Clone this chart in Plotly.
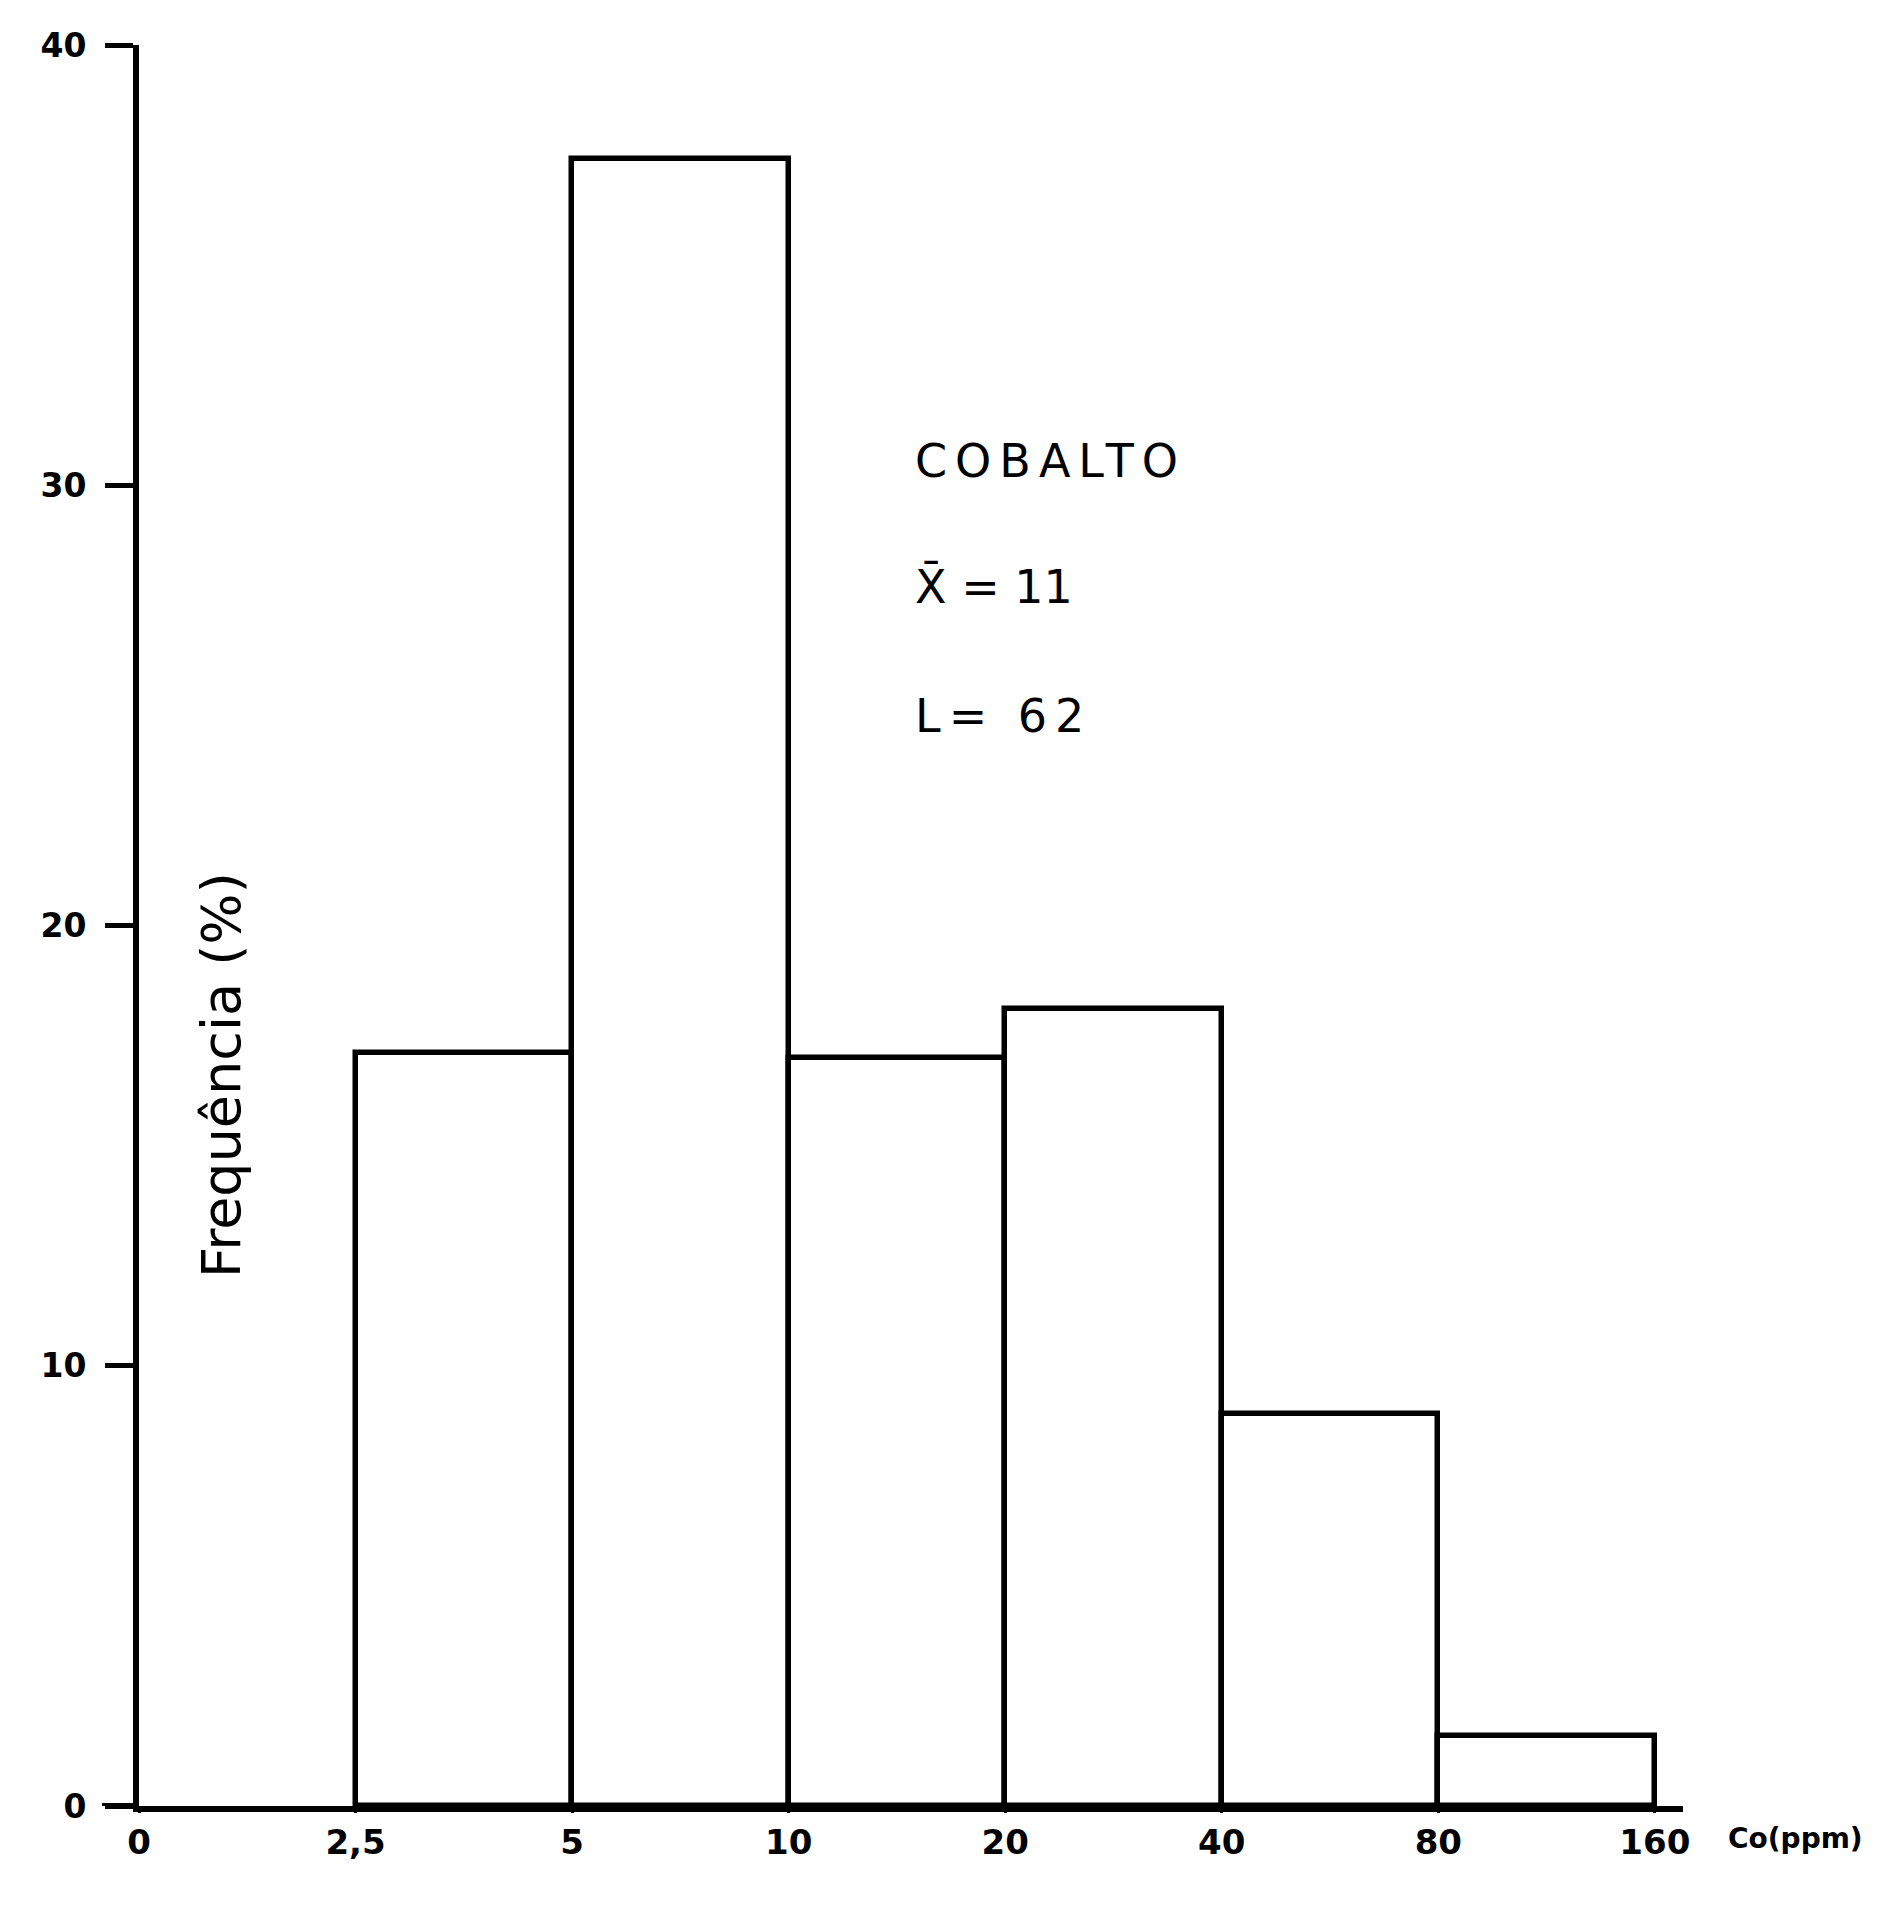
import plotly.graph_objects as go

# Bin edges (Co, ppm) shown as equal-width classes on the x axis
edge_labels = ["0", "2,5", "5", "10", "20", "40", "80", "160"]
# Frequency (%) for classes 2,5-5, 5-10, 10-20, 20-40, 40-80, 80-160
class_start_index = [1, 2, 3, 4, 5, 6]
frequency = [17.1, 37.4, 17.0, 18.1, 8.9, 1.6]
y_ticks = [0, 10, 20, 30, 40]

title_lines = ["COBALTO", "X\u0304 = 11", "L= 62"]
title_spacing = [8, 0, 8]
y_title = "Frequência (%)"
x_unit = "Co(ppm)"

W, H = 1881, 1927
ML, MR, MT, MB = 139, 198, 45, 121
FONT = "DejaVu Sans"

fig = go.Figure()
fig.add_trace(go.Bar(
    x=[i + 0.5 for i in class_start_index],
    y=frequency,
    width=1.0,
    marker=dict(color="white", line=dict(color="black", width=5.5)),
    showlegend=False,
    hoverinfo="skip",
))

plot_w = W - ML - MR
plot_h = H - MT - MB
x_max = 7.13

fig.update_layout(
    width=W, height=H,
    margin=dict(l=ML, r=MR, t=MT, b=MB),
    paper_bgcolor="white", plot_bgcolor="white",
    font=dict(family=FONT, color="black", size=30),
    bargap=0,
    xaxis=dict(
        range=[0, x_max],
        tickmode="array",
        tickvals=list(range(len(edge_labels))),
        ticktext=edge_labels,
        showline=True, linecolor="black", linewidth=6,
        ticks="outside", ticklen=1, tickwidth=3, tickcolor="black",
        showgrid=False, zeroline=False,
        tickfont=dict(family=FONT, size=34, color="black", weight="bold"),
    ),
    yaxis=dict(
        range=[0, 40],
        tickmode="array",
        tickvals=y_ticks,
        showline=True, linecolor="black", linewidth=6,
        ticks="outside", ticklen=28, tickwidth=5, tickcolor="black",
        ticklabelstandoff=12,
        showgrid=False, zeroline=False,
        tickfont=dict(family=FONT, size=33, color="black", weight="bold"),
    ),
)

# small overhang of the x-axis line to the left of the y axis
fig.add_shape(type="line", xref="paper", yref="y",
              x0=-37 / plot_w, x1=0, y0=0, y1=0,
              line=dict(color="black", width=6))

ys = [0.764, 0.692, 0.619]
for txt, sp, yy in zip(title_lines, title_spacing, ys):
    t = txt if sp == 0 else f'<span style="letter-spacing:{sp}px">{txt}</span>'
    fig.add_annotation(text=t, xref="paper", yref="paper",
                       x=(913 - ML) / plot_w, y=yy, xanchor="left", yanchor="middle",
                       showarrow=False,
                       font=dict(family=FONT, size=46, color="black"))

fig.add_annotation(text=y_title, xref="paper", yref="paper",
                   x=(221 - ML) / plot_w, y=(H - MB - 1075) / plot_h,
                   textangle=-90, xanchor="center", yanchor="middle",
                   showarrow=False,
                   font=dict(family=FONT, size=54, color="black"))

fig.add_annotation(text=x_unit, xref="paper", yref="paper",
                   x=(1726 - ML) / plot_w, y=-(1838 - (H - MB)) / plot_h,
                   xanchor="left", yanchor="middle", showarrow=False,
                   font=dict(family=FONT, size=28, color="black", weight="bold"))

fig.write_html("out.html")
